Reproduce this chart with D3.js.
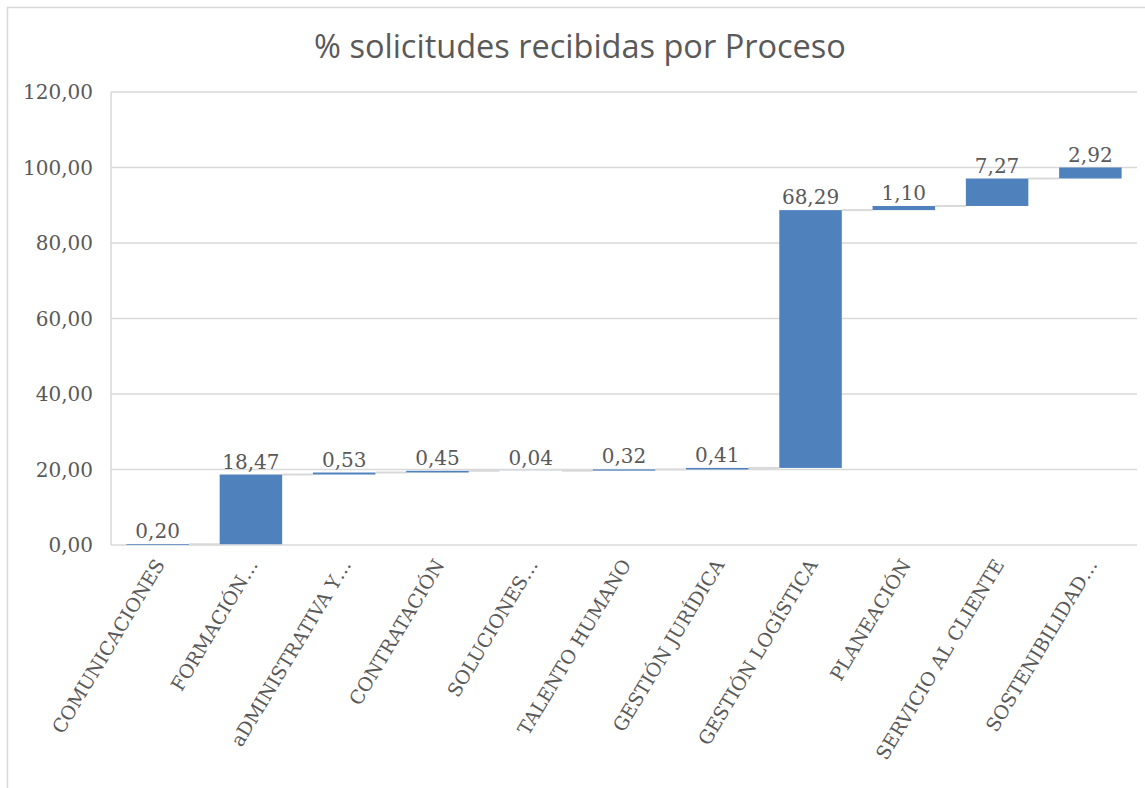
<!DOCTYPE html>
<html>
<head>
<meta charset="utf-8">
<script src="https://cdn.jsdelivr.net/npm/d3@7"></script>
<style>
  body { margin: 0; background: #fff; }
  svg { display: block; }
</style>
</head>
<body>
<svg id="chart" width="1145" height="788"></svg>
<script>
// data
const procesos = ["COMUNICACIONES", "FORMACIÓN…", "aDMINISTRATIVA Y…", "CONTRATACIÓN", "SOLUCIONES…",
    "TALENTO HUMANO", "GESTIÓN JURÍDICA", "GESTIÓN LOGÍSTICA", "PLANEACIÓN", "SERVICIO AL CLIENTE", "SOSTENIBILIDAD…"]
const porcentajes = [0.20, 18.47, 0.53, 0.45, 0.04, 0.32, 0.41, 68.29, 1.10, 7.27, 2.92]
const yTicks = [0, 20, 40, 60, 80, 100, 120]

const titulo = "% solicitudes recibidas por Proceso"
const azul = "#4f81bd"
const gris = "#d9d9d9"
const texto = "#595959"
const serif = "'DejaVu Serif', serif"

const svg = d3.select("#chart")

// chart border (only top and left visible in the picture)
svg.append("rect")
    .attr("x", 7.5).attr("y", 7.5)
    .attr("width", 1200).attr("height", 900)
    .attr("fill", "none").attr("stroke", gris).attr("stroke-width", 1.5)

svg.append("text")
    .attr("x", 580).attr("y", 58)
    .attr("text-anchor", "middle")
    .attr("font-family", "'Open Sans', sans-serif")
    .attr("font-size", 32.5)
    .attr("fill", texto)
    .text(titulo)

const plotLeft = 111, plotRight = 1137, plotTop = 92, plotBottom = 545

const x = d3.scaleBand().domain(procesos).range([plotLeft, plotRight]).paddingInner(0.33).paddingOuter(0.165)
const y = d3.scaleLinear().domain([0, 120]).range([plotBottom, plotTop])

// running totals for the waterfall
let acc = 0
const pasos = porcentajes.map((v, i) => {
    const inicio = acc
    acc += v
    return { cat: procesos[i], v: v, inicio: inicio, fin: acc }
})

// gridlines
svg.append("g").selectAll("line").data(yTicks).join("line")
    .attr("x1", plotLeft).attr("x2", plotRight)
    .attr("y1", d => y(d)).attr("y2", d => y(d))
    .attr("stroke", gris).attr("stroke-width", 1.5)

// left axis line
svg.append("line")
    .attr("x1", plotLeft).attr("x2", plotLeft)
    .attr("y1", plotTop).attr("y2", plotBottom)
    .attr("stroke", gris).attr("stroke-width", 1.5)

const fmt = d => d3.format(".2f")(d).replace(".", ",")

svg.append("g").selectAll("text").data(yTicks).join("text")
    .attr("x", 93).attr("y", d => y(d))
    .attr("dy", "0.35em")
    .attr("text-anchor", "end")
    .attr("font-family", serif)
    .attr("font-size", 20)
    .attr("fill", texto)
    .text(fmt)

// connectors between bars
svg.append("g").selectAll("line").data(pasos.slice(0, -1)).join("line")
    .attr("x1", d => x(d.cat) + x.bandwidth())
    .attr("x2", (d, i) => x(procesos[i + 1]))
    .attr("y1", d => y(d.fin)).attr("y2", d => y(d.fin))
    .attr("stroke", gris).attr("stroke-width", 2)

// bars
svg.append("g").selectAll("rect").data(pasos).join("rect")
    .attr("x", d => x(d.cat))
    .attr("width", x.bandwidth())
    .attr("y", d => y(d.fin))
    .attr("height", d => y(d.inicio) - y(d.fin))
    .attr("fill", azul)

// value labels
svg.append("g").selectAll("text").data(pasos).join("text")
    .attr("x", d => x(d.cat) + x.bandwidth() / 2)
    .attr("y", d => y(d.fin) - 6)
    .attr("text-anchor", "middle")
    .attr("font-family", serif)
    .attr("font-size", 20)
    .attr("fill", texto)
    .text(d => fmt(d.v))

// category labels
svg.append("g").selectAll("text").data(procesos).join("text")
    .attr("transform", d => `translate(${x(d) + x.bandwidth() / 2 + 2},${plotBottom + 16}) rotate(-59)`)
    .attr("text-anchor", "end")
    .attr("dy", "0.35em")
    .attr("font-family", serif)
    .attr("font-size", 19)
    .attr("fill", texto)
    .text(d => d)
</script>
</body>
</html>
